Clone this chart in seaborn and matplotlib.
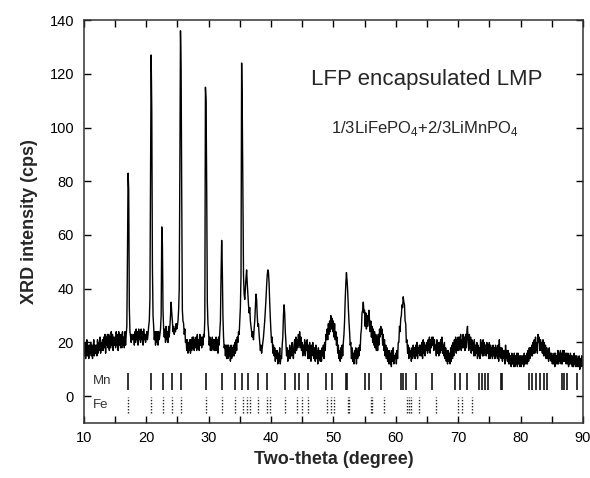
import numpy as np
import pandas as pd
import matplotlib
matplotlib.use("Agg")
import matplotlib.pyplot as plt
import seaborn as sns

# XRD pattern, every 0.1 degree from 10 to 90 (one row per degree)
intensity = [
    19, 15, 20, 14, 18, 21, 15, 19, 14, 19,   # 10
    16, 20, 15, 19, 14, 18, 21, 15, 19, 16,   # 11
    19, 15, 21, 16, 20, 17, 22, 16, 20, 17,   # 12
    21, 17, 22, 18, 23, 16, 22, 19, 23, 18,   # 13
    23, 17, 22, 18, 24, 19, 23, 17, 22, 19,   # 14
    22, 18, 24, 19, 23, 17, 24, 19, 23, 18,   # 15
    23, 18, 24, 19, 22, 18, 24, 19, 23, 26,   # 16
    52, 83, 77, 33, 24, 22, 20, 23, 21, 22,   # 17
    23, 19, 24, 20, 25, 21, 24, 19, 25, 21,   # 18
    24, 20, 25, 21, 24, 19, 25, 21, 23, 20,   # 19
    22, 24, 21, 23, 26, 28, 36, 82, 127, 106, # 20
    48, 30, 26, 21, 24, 19, 24, 20, 24, 19,   # 21
    24, 21, 23, 25, 30, 63, 57, 32, 25, 22,   # 22
    25, 20, 26, 21, 24, 20, 26, 22, 26, 30,   # 23
    35, 31, 28, 24, 26, 23, 25, 24, 27, 25,   # 24
    26, 28, 32, 40, 85, 136, 122, 74, 32, 28, # 25
    27, 23, 25, 20, 21, 17, 21, 16, 20, 17,   # 26
    21, 16, 21, 17, 22, 18, 22, 17, 21, 18,   # 27
    22, 17, 23, 18, 21, 17, 23, 19, 22, 18,   # 28
    22, 19, 23, 22, 29, 115, 110, 78, 35, 27, # 29
    24, 19, 22, 17, 21, 17, 22, 18, 21, 17,   # 30
    21, 17, 22, 17, 21, 16, 22, 19, 24, 28,   # 31
    45, 58, 48, 30, 22, 18, 19, 15, 19, 14,   # 32
    19, 14, 19, 15, 18, 13, 19, 14, 18, 15,   # 33
    19, 15, 20, 16, 21, 17, 22, 20, 24, 23,   # 34
    28, 33, 45, 124, 107, 77, 45, 38, 36, 40, # 35
    44, 47, 42, 38, 34, 31, 33, 28, 26, 24,   # 36
    22, 24, 21, 25, 28, 33, 38, 36, 30, 26,   # 37
    27, 23, 20, 17, 19, 16, 18, 20, 22, 25,   # 38
    28, 32, 36, 41, 45, 47, 46, 42, 35, 29,   # 39
    24, 20, 22, 16, 19, 15, 18, 13, 17, 14,   # 40
    17, 12, 16, 13, 18, 12, 15, 14, 19, 22,   # 41
    30, 34, 31, 24, 20, 15, 18, 13, 17, 14,   # 42
    19, 14, 18, 15, 20, 16, 14, 19, 21, 16,   # 43
    22, 17, 21, 18, 23, 19, 24, 18, 22, 17,   # 44
    20, 15, 19, 16, 21, 15, 20, 17, 21, 14,   # 45
    19, 14, 20, 16, 13, 19, 15, 20, 16, 14,   # 46
    18, 13, 19, 14, 17, 12, 18, 14, 17, 13,   # 47
    17, 13, 18, 15, 19, 14, 20, 17, 23, 21,   # 48
    25, 21, 27, 23, 28, 24, 30, 25, 29, 24,   # 49
    28, 22, 27, 21, 24, 19, 22, 16, 19, 14,   # 50
    17, 13, 18, 14, 19, 15, 20, 23, 28, 36,   # 51
    42, 46, 43, 39, 33, 28, 24, 19, 20, 14,   # 52
    18, 13, 16, 12, 17, 14, 18, 12, 17, 14,   # 53
    18, 15, 19, 17, 23, 25, 31, 32, 35, 31,   # 54
    32, 26, 31, 25, 30, 26, 29, 32, 28, 24,   # 55
    28, 22, 26, 20, 25, 19, 24, 18, 23, 17,   # 56
    22, 17, 23, 19, 25, 22, 26, 23, 25, 19,   # 57
    23, 17, 21, 15, 19, 14, 18, 13, 17, 12,   # 58
    17, 12, 16, 11, 17, 13, 18, 12, 15, 14,   # 59
    16, 12, 17, 14, 20, 20, 26, 24, 29, 30,   # 60
    34, 33, 37, 35, 34, 28, 27, 20, 21, 16,   # 61
    19, 14, 18, 15, 17, 13, 18, 14, 19, 15,   # 62
    18, 14, 19, 15, 20, 14, 18, 16, 19, 15,   # 63
    19, 15, 20, 14, 21, 16, 20, 15, 19, 17,   # 64
    20, 16, 21, 17, 22, 16, 21, 18, 22, 19,   # 65
    22, 17, 21, 18, 19, 15, 21, 16, 20, 15,   # 66
    20, 16, 21, 17, 22, 16, 19, 15, 20, 14,   # 67
    18, 13, 17, 12, 17, 13, 16, 12, 18, 13,   # 68
    19, 14, 20, 15, 21, 17, 22, 16, 21, 17,   # 69
    22, 17, 22, 18, 23, 17, 21, 18, 23, 18,   # 70
    22, 17, 23, 18, 24, 26, 20, 17, 23, 18,   # 71
    22, 16, 21, 17, 20, 15, 21, 15, 19, 16,   # 72
    20, 14, 19, 15, 18, 14, 21, 16, 20, 15,   # 73
    21, 15, 20, 16, 19, 15, 20, 16, 19, 14,   # 74
    20, 14, 19, 15, 18, 14, 19, 15, 18, 14,   # 75
    19, 15, 18, 14, 19, 13, 21, 15, 18, 14,   # 76
    18, 13, 17, 14, 17, 12, 19, 14, 17, 13,   # 77
    17, 12, 16, 12, 15, 11, 16, 12, 15, 11,   # 78
    16, 11, 15, 12, 16, 11, 16, 12, 15, 11,   # 79
    15, 11, 15, 12, 15, 11, 16, 12, 15, 12,   # 80
    16, 12, 17, 13, 18, 14, 18, 15, 19, 15,   # 81
    20, 16, 21, 16, 22, 17, 20, 16, 23, 20,   # 82
    22, 17, 21, 17, 20, 16, 21, 15, 20, 15,   # 83
    19, 14, 18, 14, 17, 13, 18, 14, 16, 13,   # 84
    16, 12, 15, 12, 16, 11, 16, 12, 15, 12,   # 85
    17, 12, 16, 13, 17, 12, 16, 12, 17, 13,   # 86
    17, 13, 16, 12, 16, 12, 16, 11, 15, 12,   # 87
    16, 12, 15, 11, 15, 11, 16, 12, 15, 11,   # 88
    15, 11, 14, 11, 15, 10, 14, 11, 15, 11,   # 89
    13,                                       # 90
]
two_theta = np.linspace(10, 90, len(intensity))

# reference reflection positions (degree)
mn_refs = [17.1, 20.8, 22.7, 24.1, 25.6, 29.6, 32.2, 34.3, 35.4, 36.4, 37.9,
           39.4, 42.2, 43.8, 44.5, 45.9, 48.9, 49.8, 52.0, 52.2, 55.0, 55.7,
           57.6, 60.8, 61.2, 61.6, 63.3, 65.8, 69.5, 70.3, 71.5, 73.3, 73.8,
           74.3, 74.8, 76.8, 77.0, 81.4, 81.9, 82.5, 83.1, 83.7, 84.2, 86.6,
           87.0, 87.4, 89.1]
fe_refs = [17.1, 20.8, 22.7, 24.1, 25.6, 29.6, 32.2, 34.3, 35.5, 36.2, 36.6,
           37.9, 39.4, 39.8, 42.2, 44.1, 44.9, 45.9, 49.0, 49.7, 50.1, 52.3,
           52.5, 56.0, 56.2, 58.1, 61.8, 62.1, 62.5, 63.7, 66.4, 70.0, 70.6,
           72.2]

df = pd.DataFrame({"two_theta": two_theta, "intensity": intensity})

sns.set_theme(style="ticks")
plt.rcParams["font.family"] = ["Liberation Sans", "DejaVu Sans"]
plt.rcParams["mathtext.fontset"] = "custom"
plt.rcParams["mathtext.rm"] = "Liberation Sans"
plt.rcParams["path.simplify"] = False  # keep the noise jagged

fig, ax = plt.subplots(figsize=(5.9, 4.78), dpi=100)
fig.subplots_adjust(left=0.142, right=0.988, bottom=0.115, top=0.958)

sns.lineplot(data=df, x="two_theta", y="intensity", ax=ax, color="black",
             lw=1.0, estimator=None)

ax.vlines(mn_refs, 2.2, 8.7, color="#111111", lw=1.2)
ax.vlines(fe_refs, -6.3, -0.3, color="#222222", lw=1.0, linestyles=(0, (1, 1.2)))

ax.text(11.5, 5.5, "Mn", fontsize=9.5, va="center", color="#333333")
ax.text(11.5, -3.4, "Fe", fontsize=9.5, va="center", color="#333333")

ax.text(46.4, 116, "LFP encapsulated LMP", fontsize=16)
ax.text(49.7, 98, "1/3LiFePO$_\\mathregular{4}$+2/3LiMnPO$_\\mathregular{4}$", fontsize=12)

ax.set_xlim(10, 90)
ax.set_ylim(-10, 140)
ax.set_xticks(range(10, 91, 10))
ax.set_xticks(range(15, 90, 10), minor=True)
ax.set_yticks(range(0, 141, 20))
ax.tick_params(which="both", direction="in", top=True, right=True,
               length=5, width=1, labelsize=10.5, colors="black")
ax.tick_params(axis="x", pad=6)
ax.tick_params(axis="y", pad=7)
for s in ax.spines.values():
    s.set_linewidth(1.1)
    s.set_color("#333333")

ax.set_xlabel("Two-theta (degree)", fontsize=13, fontweight="bold", labelpad=4)
ax.set_ylabel("XRD intensity (cps)", fontsize=13, fontweight="bold", labelpad=8)

fig.savefig("out.png", dpi=100)
